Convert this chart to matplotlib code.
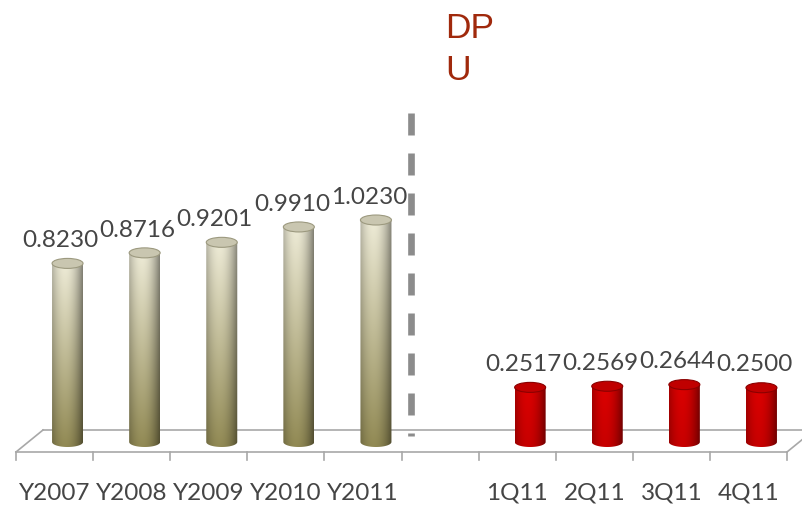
import numpy as np
import matplotlib
matplotlib.use("Agg")
import matplotlib.pyplot as plt
from matplotlib.path import Path
from matplotlib.patches import PathPatch, Ellipse

# ---- data ----
year_labels = ['Y2007', 'Y2008', 'Y2009', 'Y2010', 'Y2011']
year_values = [0.8230, 0.8716, 0.9201, 0.9910, 1.0230]
quarter_labels = ['1Q11', '2Q11', '3Q11', '4Q11']
quarter_values = [0.2517, 0.2569, 0.2644, 0.2500]
title_lines = ['DP', 'U']

# slots: 5 years, one empty gap, 4 quarters
categories = year_labels + [''] + quarter_labels
values = year_values + [None] + quarter_values
kinds = ['year'] * len(year_labels) + [None] + ['quarter'] * len(quarter_labels)

W, H = 802, 505
fig = plt.figure(figsize=(W / 100, H / 100), dpi=100)
ax = fig.add_axes([0, 0, 1, 1])
ax.set_axis_off()

PX_X = 77.1   # pixels per slot
PX_Y = 217.0  # pixels per value unit
ax.set_xlim(-16 / PX_X, (W - 16) / PX_X)
ax.set_ylim(-(H - 442) / PX_Y, 442 / PX_Y)

# ---- floor (3D base) ----
n = len(categories)
dx = 27 / PX_X
y_front = -10 / PX_Y
y_back = 12 / PX_Y
floor_col = '#a8a8a8'
lw_floor = 1.2
ax.plot([0, n], [y_front, y_front], color=floor_col, lw=lw_floor, zorder=1)
ax.plot([dx, n + dx + 1], [y_back, y_back], color=floor_col, lw=lw_floor, zorder=1)
ax.plot([0, dx], [y_front, y_back], color=floor_col, lw=lw_floor, zorder=1)
ax.plot([n, n + dx], [y_front, y_back], color=floor_col, lw=lw_floor, zorder=1)
for i in range(n + 1):
    ax.plot([i, i], [y_front, y_front - 8 / PX_Y], color=floor_col, lw=lw_floor, zorder=1)

# ---- cylinders ----
bar_w = 31 / PX_X
ell_h = 10 / PX_Y
shift = 13 / PX_X

schemes = {
    'year': dict(top=np.array([0.93, 0.92, 0.84]), bottom=np.array([0.57, 0.54, 0.33]),
                 cap='#c9c6b0', capedge='#9c997f'),
    'quarter': dict(top=np.array([0.86, 0.0, 0.0]), bottom=np.array([0.78, 0.0, 0.0]),
                    cap='#c00000', capedge='#8a0000'),
}

t = np.linspace(0, 1, 60)
shade = np.clip(1.0 - 0.45 * ((t - 0.42) / 0.58) ** 2, 0, 1)

txt_kw = dict(family=['Lato', 'DejaVu Sans'], fontweight='normal', color='#454545')

for i, (v, k) in enumerate(zip(values, kinds)):
    if v is None:
        continue
    sc = schemes[k]
    xc = i + 0.5 + shift
    x0, x1 = xc - bar_w / 2, xc + bar_w / 2
    ang = np.linspace(np.pi, 2 * np.pi, 40)
    arc_x = xc + bar_w / 2 * np.cos(ang)
    arc_y = 0 + ell_h / 2 * np.sin(ang)
    verts = [(x0, v)] + list(zip(arc_x, arc_y)) + [(x1, v), (x0, v)]
    codes = [Path.MOVETO] + [Path.LINETO] * (len(verts) - 2) + [Path.CLOSEPOLY]
    body = PathPatch(Path(verts, codes), facecolor='none', edgecolor='none', zorder=3)
    ax.add_patch(body)
    fy = np.linspace(1, 0, 80)[:, None, None]
    base = sc['bottom'][None, None, :] + (sc['top'] - sc['bottom'])[None, None, :] * fy
    img = np.clip(base * shade[None, :, None], 0, 1)
    im = ax.imshow(img, extent=(x0, x1, -ell_h / 2, v), aspect='auto',
                   interpolation='bilinear', zorder=3)
    im.set_clip_path(body)
    cap = Ellipse((xc, v), bar_w, ell_h, facecolor=sc['cap'], edgecolor=sc['capedge'],
                  lw=0.8, zorder=4)
    ax.add_patch(cap)
    ax.text(i + 0.5 + 6 / PX_X, v + 0.105, f"{v:.4f}", ha='center', va='center',
            fontsize=17.5, zorder=5, **txt_kw)

# ---- category labels ----
for i, c in enumerate(categories):
    if c:
        ax.text(i + 0.5, -51 / PX_Y, c, ha='center', va='center', fontsize=17.5, **txt_kw)

# ---- dashed separator ----
xd = (410.7 - 16) / PX_X
ax.plot([xd, xd], [(442 - 113) / PX_Y, (442 - 436) / PX_Y], color='#8c8c8c', lw=4.8,
        dashes=(3.3, 2.7), solid_capstyle='butt', dash_capstyle='butt', zorder=2)

# ---- title ----
for line, base_px in zip(title_lines, [38, 80]):
    fig.text(445 / W, 1 - base_px / H, line, ha='left', va='baseline', fontsize=25.5,
             family='Liberation Sans', color='#a0290c')

fig.savefig('out.png', dpi=100)
